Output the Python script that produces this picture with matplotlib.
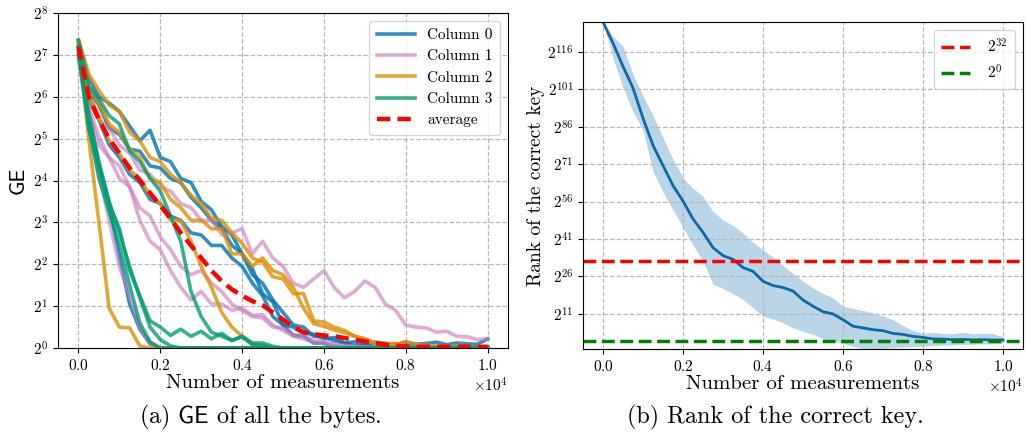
import numpy as np
import matplotlib
matplotlib.use('Agg')
import matplotlib.pyplot as plt
from matplotlib.ticker import FixedLocator, NullLocator, FuncFormatter

plt.rcParams['font.family'] = 'serif'
plt.rcParams['font.serif'] = ['cmr10']
plt.rcParams['mathtext.fontset'] = 'cm'
plt.rcParams['axes.formatter.use_mathtext'] = True
plt.rcParams['axes.unicode_minus'] = False

# ---------------- data ----------------
measurements = list(range(0, 10001, 250))

# log2(GE) per byte, grouped by column
col0_b0 = [7.35, 6.45, 6.0, 5.85, 5.65, 5.3, 4.95, 5.2, 4.55, 4.45,
           4.05, 3.95, 3.5, 3.3, 2.9, 2.7, 2.25, 1.9, 1.3, 1.1,
           0.55, 0.5, 0.35, 0.33, 0.22, 0.25, 0.12, 0.15, 0.08, 0.14,
           0.1, 0.08, 0.13, 0.09, 0.11, 0.14, 0.08, 0.12, 0.1, 0.09, 0.22]
col0_b1 = [7.3, 6.15, 5.8, 5.25, 5.1, 4.75, 4.7, 4.35, 4.3, 4.05,
           3.95, 3.6, 3.35, 3.05, 2.85, 2.45, 2.25, 1.75, 1.55, 1.15,
           0.85, 0.55, 0.5, 0.28, 0.27, 0.17, 0.12, 0.06, 0.07, 0.04,
           0.03, 0.04, 0.02, 0.03, 0.02, 0.02, 0.03, 0.02, 0.02, 0.02, 0.02]
col0_b2 = [7.2, 5.95, 5.45, 4.85, 4.55, 4.15, 3.95, 3.55, 3.45, 3.15,
           3.05, 2.75, 2.7, 2.45, 2.45, 2.15, 1.95, 1.55, 1.25, 0.75,
           0.55, 0.3, 0.28, 0.12, 0.12, 0.04] + [0.0] * 15
col0_b3 = [7.0, 5.6, 4.35, 3.4, 2.2, 1.05, 0.45, 0.1] + [0.0] * 33

col1_b0 = [7.3, 6.05, 5.45, 5.25, 4.85, 4.65, 4.25, 4.15, 3.85, 3.75,
           3.45, 3.35, 3.05, 3.05, 2.7, 2.75, 2.85, 2.25, 2.55, 2.15,
           1.95, 1.55, 1.45, 1.65, 1.85, 1.45, 1.2, 1.35, 1.6, 1.45,
           1.05, 0.9, 0.55, 0.5, 0.48, 0.38, 0.4, 0.28, 0.27, 0.2, 0.22]
col1_b1 = [7.2, 5.75, 5.05, 4.55, 4.35, 3.85, 3.05, 2.55, 2.35, 1.85,
           1.45, 1.15, 1.35, 1.05, 1.05, 0.9, 0.95, 0.78, 0.8, 0.55,
           0.42, 0.28, 0.22, 0.13, 0.1, 0.06, 0.04, 0.03, 0.02] + [0.0] * 12
col1_b2 = [7.1, 5.65, 4.85, 4.55, 4.05, 3.85, 3.35, 3.15, 2.65, 2.35,
           1.95, 1.75, 1.85, 1.55, 1.35, 1.05, 0.9, 0.75, 0.72, 0.5,
           0.48, 0.32, 0.3, 0.18, 0.16, 0.08, 0.06, 0.04, 0.03, 0.02] + [0.0] * 11
col1_b3 = [6.9, 5.3, 4.15, 3.05, 1.95, 1.25, 0.5, 0.1] + [0.0] * 33

col2_b0 = [7.3, 5.0, 3.0, 0.95, 0.5, 0.48, 0.05] + [0.0] * 34
col2_b1 = [7.35, 6.55, 6.15, 5.8, 5.65, 5.15, 4.95, 4.55, 4.45, 4.15,
           3.95, 3.65, 3.45, 3.1, 3.05, 2.75, 2.5, 2.15, 2.05, 1.7,
           1.65, 1.3, 1.3, 0.65, 0.62, 0.5, 0.42, 0.28, 0.22, 0.13,
           0.12, 0.08, 0.16, 0.09, 0.06, 0.05, 0.03, 0.04, 0.02, 0.02, 0.02]
col2_b2 = [7.2, 6.25, 5.85, 5.35, 5.15, 4.75, 4.55, 4.05, 3.95, 3.55,
           3.35, 3.05, 3.05, 2.85, 2.85, 2.25, 2.25, 1.95, 2.15, 1.85,
           1.75, 1.45, 0.95, 0.58, 0.52, 0.43, 0.37, 0.28, 0.22, 0.09,
           0.06, 0.11, 0.04] + [0.0] * 8
col2_b3 = [7.1, 6.05, 5.55, 4.95, 4.65, 4.25, 4.05, 3.65, 3.45, 3.05,
           3.05, 2.55, 1.95, 1.45, 0.85, 0.5, 0.28, 0.08, 0.06] + [0.0] * 22

col3_b0 = [7.0, 5.3, 4.05, 3.25, 2.45, 1.5, 0.6, 0.15] + [0.0] * 33
col3_b1 = [7.1, 5.6, 4.45, 3.5, 2.75, 1.95, 1.2, 0.5, 0.2, 0.05] + [0.0] * 31
col3_b2 = [7.2, 5.25, 4.35, 3.45, 2.85, 1.85, 1.25, 0.65, 0.5, 0.3,
           0.45, 0.28, 0.4, 0.22, 0.35, 0.18, 0.28, 0.12, 0.12, 0.04] + [0.0] * 21
col3_b3 = [7.35, 6.25, 5.95, 5.55, 5.35, 4.7, 4.45, 4.05, 3.75, 3.15,
           2.55, 1.35, 0.75, 0.38, 0.28, 0.18, 0.27, 0.08, 0.06] + [0.0] * 22

average_log2 = [7.2, 6.0, 5.45, 5.0, 4.65, 4.3, 4.0, 3.7, 3.4, 3.1,
                2.75, 2.45, 2.15, 1.85, 1.6, 1.4, 1.25, 1.12, 1.02, 0.85,
                0.68, 0.5, 0.38, 0.33, 0.3, 0.28, 0.24, 0.2, 0.16, 0.12,
                0.08, 0.05, 0.04, 0.03, 0.03, 0.03, 0.03, 0.03, 0.03, 0.03, 0.03]

columns = ["Column 0", "Column 1", "Column 2", "Column 3"]
column_bytes = [
    [col0_b0, col0_b1, col0_b2, col0_b3],
    [col1_b0, col1_b1, col1_b2, col1_b3],
    [col2_b0, col2_b1, col2_b2, col2_b3],
    [col3_b0, col3_b1, col3_b2, col3_b3],
]
column_colors = ['#0173B2', '#CC78BC', '#DE8F05', '#029E73']
column_alpha = [0.8, 0.62, 0.8, 0.8]

# rank of correct key, log2
rank_mean = [128, 119.5, 110.2, 101.5, 89.4, 78.5, 70.4, 62.4, 56.2, 49.0,
             43.6, 37.5, 34.3, 32.8, 29.5, 28.0, 24.0, 22.3, 21.5, 20.1,
             16.5, 14.0, 11.8, 10.9, 8.6, 6.0, 5.3, 4.6, 4.2, 3.1,
             2.7, 1.9, 1.5, 0.9, 0.8, 0.6, 0.7, 0.5, 0.6, 0.45, 0.45]
rank_upper = [128, 122.3, 118.2, 107.0, 98.4, 90.5, 81.6, 73.0, 65.5, 61.3,
              58.1, 52.0, 48.6, 46.4, 43.4, 39.6, 36.7, 33.7, 30.3, 27.1,
              24.1, 21.3, 19.2, 17.3, 14.0, 13.1, 12.3, 11.4, 10.1, 8.6,
              6.3, 4.3, 3.2, 3.5, 3.1, 3.0, 3.5, 3.0, 3.2, 3.0, 1.8]
rank_lower = [128, 113.5, 101.7, 92.0, 84.5, 68.0, 59.7, 52.7, 45.6, 38.6,
              32.0, 22.8, 21.1, 19.0, 16.7, 13.4, 10.0, 8.9, 7.3, 5.3,
              3.9, 2.7, 1.0, 0.0, -0.8, -2.2, -2.9, -2.9, -2.9, -2.6,
              -2.4, -2.2, -2.0, -1.8, -1.6, -1.5, -1.3, -1.2, -1.1, -1.0, -0.9]
thresholds = [32, 0]
threshold_labels = [r'$2^{32}$', r'$2^{0}$']
threshold_colors = ['red', 'green']

left_yticks_exp = list(range(0, 9))
right_yticks_exp = [11, 26, 41, 56, 71, 86, 101, 116]

# ---------------- figure ----------------
fig = plt.figure(figsize=(10.27, 4.43), dpi=100)
ax1 = fig.add_axes([0.0565, 0.2144, 0.4382, 0.7562])
ax2 = fig.add_axes([0.5677, 0.2122, 0.4284, 0.7381])

x = np.array(measurements)
for name, lines, color, a in zip(columns, column_bytes, column_colors, column_alpha):
    for i, ln in enumerate(lines):
        ax1.plot(x, 2.0 ** np.array(ln), color=color, alpha=a, lw=2.6,
                 label=name if i == 0 else None)
ax1.plot(x, 2.0 ** np.array(average_log2), color='red', lw=3.2,
         linestyle=(0, (3, 1.6)), label='average', zorder=5)

ax1.set_yscale('log', base=2)
ax1.set_ylim(1, 256)
ax1.yaxis.set_major_locator(FixedLocator([2.0 ** k for k in left_yticks_exp]))
ax1.yaxis.set_minor_locator(NullLocator())
fmt = FuncFormatter(lambda v, p: r'$2^{%d}$' % int(round(np.log2(v))))
ax1.yaxis.set_major_formatter(fmt)
ax1.ticklabel_format(axis='x', style='sci', scilimits=(0, 0))
ax1.set_xlim(-500, 10500)
ax1.set_xlabel('Number of measurements', fontsize=15, labelpad=1)
ax1.set_ylabel('GE', fontsize=15.5, family='cmss10', labelpad=4)
ax1.grid(True, linestyle='--', color='#b8b8b8', linewidth=0.9)
ax1.tick_params(labelsize=11)
ax1.xaxis.get_offset_text().set_fontsize(11)
ax1.legend(loc='upper right', fontsize=11, handlelength=2.5,
           framealpha=0.8, borderpad=0.5, labelspacing=0.5)

ax2.fill_between(x, 2.0 ** np.array(rank_lower), 2.0 ** np.array(rank_upper),
                 color='#1f77b4', alpha=0.3, linewidth=0)
ax2.plot(x, 2.0 ** np.array(rank_mean), color='#0a6aab', lw=2.0)
for t, lab, c in zip(thresholds, threshold_labels, threshold_colors):
    ax2.axhline(2.0 ** t, color=c, linestyle='--', lw=2.5, label=lab)
ax2.set_yscale('log', base=2)
ax2.set_ylim(2.0 ** -3.15, 2.0 ** 128)
ax2.yaxis.set_major_locator(FixedLocator([2.0 ** k for k in right_yticks_exp]))
ax2.yaxis.set_minor_locator(NullLocator())
ax2.yaxis.set_major_formatter(fmt)
ax2.ticklabel_format(axis='x', style='sci', scilimits=(0, 0))
ax2.set_xlim(-500, 10500)
ax2.set_xlabel('Number of measurements', fontsize=15, labelpad=1)
ax2.set_ylabel('Rank of the correct key', fontsize=14, labelpad=2)
ax2.grid(True, linestyle='--', color='#b8b8b8', linewidth=0.9)
ax2.tick_params(labelsize=11)
ax2.xaxis.get_offset_text().set_fontsize(11)
ax2.legend(loc='upper right', fontsize=11, handlelength=1.9, handletextpad=1.1,
           framealpha=0.8, borderpad=0.5, labelspacing=0.5)

fig.text(0.253, 0.057, r'(a) $\mathsf{GE}$ of all the bytes.', fontsize=17.4,
         ha='center', va='center')
fig.text(0.7546, 0.057, '(b) Rank of the correct key.', fontsize=17.4,
         ha='center', va='center')

fig.savefig('out.png', dpi=100)
